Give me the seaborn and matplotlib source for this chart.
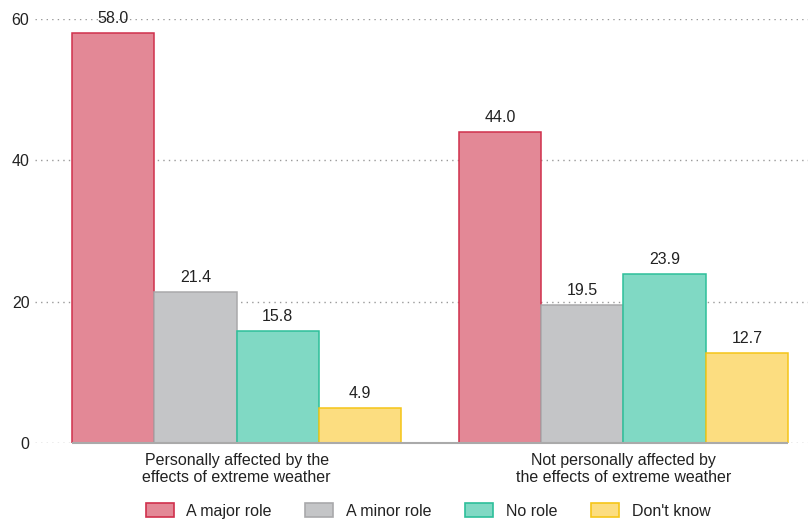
import matplotlib
matplotlib.use("Agg")
import matplotlib.pyplot as plt
import seaborn as sns
import pandas as pd

groups = ["Personally affected by the\neffects of extreme weather",
          "Not personally affected by\nthe effects of extreme weather"]
roles = ["A major role", "A minor role", "No role", "Don't know"]
affected = [58.0, 21.4, 15.8, 4.9]
not_affected = [44.0, 19.5, 23.9, 12.7]

fills = ["#E38896", "#C4C5C7", "#80D9C4", "#FCDD80"]
edges = ["#D0304C", "#A9A9AB", "#2DBF9A", "#F5C518"]

df = pd.DataFrame({
    "group": [groups[0]] * 4 + [groups[1]] * 4,
    "role": roles * 2,
    "value": affected + not_affected,
})

sns.set_theme(style="white")
plt.rcParams["font.family"] = ["Liberation Sans", "DejaVu Sans"]

FS = 11.5
fig = plt.figure(figsize=(8.12, 5.21), dpi=100)
ax = fig.add_axes([35 / 812, 1 - 443 / 521, (808 - 35) / 812, (443 - 19) / 521])

sns.barplot(data=df, x="group", y="value", hue="role", hue_order=roles,
            palette=fills, width=0.85, ax=ax, legend=False, saturation=1)

for cont, ec in zip(ax.containers, edges):
    for bar in cont:
        bar.set_edgecolor(ec)
        bar.set_linewidth(1.1)
    ax.bar_label(cont, fmt="%.1f", padding=5, fontsize=FS, color="#222222")

ax.set_xlim(-0.521, 1.477)
ax.set_ylim(0, 60)
ax.set_yticks([0, 20, 40, 60])
ax.yaxis.grid(True, linestyle=(0, (1, 3)), color="#999999", linewidth=1)
ax.set_axisbelow(True)
for s in ax.spines.values():
    s.set_visible(False)
ax.tick_params(axis="y", length=0, pad=4, labelsize=FS, labelcolor="#222222")
ax.tick_params(axis="x", length=0, pad=7, labelsize=FS, labelcolor="#222222")
ax.set_xlabel("")
ax.set_ylabel("")

# solid baseline under the bar span
left = min(b.get_x() for c in ax.containers for b in c)
right = max(b.get_x() + b.get_width() for c in ax.containers for b in c)
ax.hlines(0, left, right, colors="#AAAAAA", linewidth=1.5, zorder=1, clip_on=False)

handles = [plt.Rectangle((0, 0), 1, 1, facecolor=f, edgecolor=e, linewidth=1.2)
           for f, e in zip(fills, edges)]
fig.legend(handles, roles, loc="center", bbox_to_anchor=(428 / 812, 1 - 511 / 521),
           ncol=4, frameon=False, fontsize=FS, handlelength=1.75, handleheight=0.9,
           columnspacing=2.1, handletextpad=0.8, labelcolor="#222222")

fig.savefig("out.png", dpi=100)
